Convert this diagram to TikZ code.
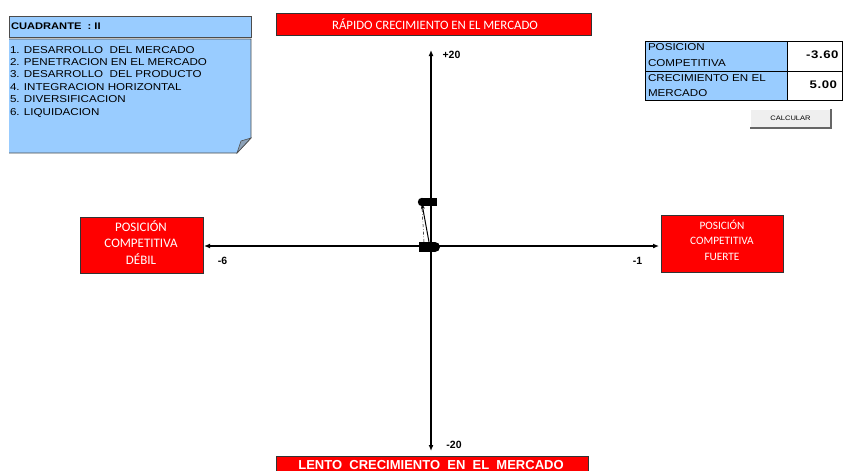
\documentclass[tikz,border=0pt]{standalone}
\usepackage{fontspec}
\setmainfont{Liberation Sans}
\newfontfamily\calibri{Carlito}
\newfontfamily\arialw[FakeStretch=1.16]{Liberation Sans}
\newfontfamily\arialv[FakeStretch=1.2,LetterSpace=5]{Liberation Sans}
\usetikzlibrary{arrows.meta}
\definecolor{panelblue}{HTML}{99CCFF}
\definecolor{alarmred}{HTML}{FF0000}
\definecolor{btngray}{HTML}{EFEFEF}
\tikzset{
  every node/.style={inner sep=0pt, outer sep=0pt},
  redbox/.style={fill=alarmred, draw=black!80, line width=0.8pt},
  redtxt/.style={text=white, font=\calibri\fontsize{#1}{10}\selectfont},
  bluebox/.style={fill=panelblue, draw=black!70, line width=0.8pt},
  axis/.style={line width=1.2pt, -{Latex[length=6pt,width=5pt]}},
  ticklbl/.style={font=\bfseries\fontsize{10.5}{12}\selectfont, anchor=base},
  listtxt/.style={font=\arialw\fontsize{10}{12}\selectfont, anchor=base west},
  valtxt/.style={font=\arialv\bfseries\fontsize{11}{12}\selectfont, anchor=base east},
  cellbox/.style={draw=black, line width=0.8pt},
  marker/.style={fill=black, minimum width=16pt, minimum height=8pt}
}
\begin{document}
\begin{tikzpicture}[x=1pt,y=-1pt]
\useasboundingbox (0,0) rectangle (846,471);

% quadrant header and strategy list
\node[bluebox, minimum width=242pt, minimum height=21pt, anchor=north west] (quad) at (9,16) {};
\node[anchor=base west, font=\arialw\bfseries\fontsize{9.6}{11}\selectfont] (quadtxt) at (11,29) {CUADRANTE\ \ : II};
\path[bluebox] (9,39) -- (251,39) -- (251,138) -- (237,153) -- (9,153);
\path[fill=panelblue!60!black!70, draw=black!70, line width=0.6pt] (251,138) -- (241,141) -- (237,153) -- cycle;
\node[listtxt] (s1) at (10,53.0) {1. DESARROLLO\ \ DEL MERCADO};
\node[listtxt] (s2) at (10,65.4) {2. PENETRACION EN EL MERCADO};
\node[listtxt] (s3) at (10,77.8) {3. DESARROLLO\ \ DEL PRODUCTO};
\node[listtxt] (s4) at (10,90.2) {4. INTEGRACION HORIZONTAL};
\node[listtxt] (s5) at (10,102.6) {5. DIVERSIFICACION};
\node[listtxt] (s6) at (10,115.0) {6. LIQUIDACION};

% axis titles
\node[redbox, minimum width=315pt, minimum height=22pt, anchor=north west] (top) at (276,13) {};
\node[redtxt=12.8] at (435,24.5) {RÁPIDO CRECIMIENTO EN EL MERCADO};
\node[redbox, minimum width=123pt, minimum height=56pt, anchor=north west] (left) at (80,217) {};
\node[redtxt=13] at (141,226) {POSICIÓN};
\node[redtxt=13] at (141,243) {COMPETITIVA};
\node[redtxt=13] at (141,259.5) {DÉBIL};
\node[redbox, minimum width=122pt, minimum height=57pt, anchor=north west] (right) at (661,215) {};
\node[redtxt=11.3] at (722,225) {POSICIÓN};
\node[redtxt=11.3] at (722,241) {COMPETITIVA};
\node[redtxt=11.3] at (722,257) {FUERTE};
\node[redbox, minimum width=312pt, minimum height=22pt, anchor=north west] (bottom) at (276,456) {};
\node[text=white, font=\bfseries\fontsize{13}{14}\selectfont, anchor=base] at (431,469.3) {LENTO\ \ CRECIMIENTO\ \ EN\ \ EL\ \ MERCADO};

% axes
\coordinate (o) at (431,246);
\coordinate (ytop) at (431,50);
\coordinate (ybot) at (431,451);
\coordinate (xl) at (204,246);
\coordinate (xr) at (659,246);
\draw[axis] (o) -- (ytop);
\draw[axis] (o) -- (ybot);
\draw[axis] (o) -- (xl);
\draw[axis] (o) -- (xr);
\node[ticklbl] (p20) at (451.5,58.3) {+20};
\node[ticklbl] (m20) at (454,448.3) {-20};
\node[ticklbl] (m6) at (222.5,264.3) {-6};
\node[ticklbl] (m1) at (637.5,264.3) {-1};

% result vector
\node[marker, minimum height=10pt, minimum width=16pt] (mo) at (427,247) {};
\node[marker, minimum height=8pt, minimum width=15pt] (mp) at (429.5,202) {};
\fill (mo.east) circle (5pt);
\fill (mp.west) circle (4.2pt);
\draw[line width=0.5pt, dash dot] (424,242) -- (422,207);
\draw[line width=1pt, -{Stealth[length=5pt,width=4pt]}] (429,242) -- (422,204);

% values table
\node[cellbox, fill=panelblue, minimum width=142pt, minimum height=30pt, anchor=north west] (c11) at (645,41) {};
\node[cellbox, minimum width=55pt, minimum height=30pt, anchor=north west] (c12) at (787,41) {};
\node[cellbox, fill=panelblue, minimum width=142pt, minimum height=29pt, anchor=north west] (c21) at (645,71) {};
\node[cellbox, minimum width=55pt, minimum height=29pt, anchor=north west] (c22) at (787,71) {};
\node[listtxt] at (648,50.7) {POSICION};
\node[listtxt] at (648,66) {COMPETITIVA};
\node[listtxt] at (648,81.7) {CRECIMIENTO EN EL};
\node[listtxt] at (648,96.7) {MERCADO};
\node[valtxt] at (838.5,58.3) {-3.60};
\node[valtxt] at (837,88.3) {5.00};

% button
\node[fill=btngray, minimum width=81pt, minimum height=19pt, anchor=north west] (calc) at (750,109) {};
\draw[white, line width=0.8pt] (calc.south west) -- (calc.north west) -- (calc.north east);
\draw[black!60, line width=1.4pt] (calc.south west) -- (calc.south east) -- (calc.north east);
\node[font=\arialw\fontsize{6.5}{7}\selectfont] at (calc.center) {CALCULAR};
\end{tikzpicture}
\end{document}
